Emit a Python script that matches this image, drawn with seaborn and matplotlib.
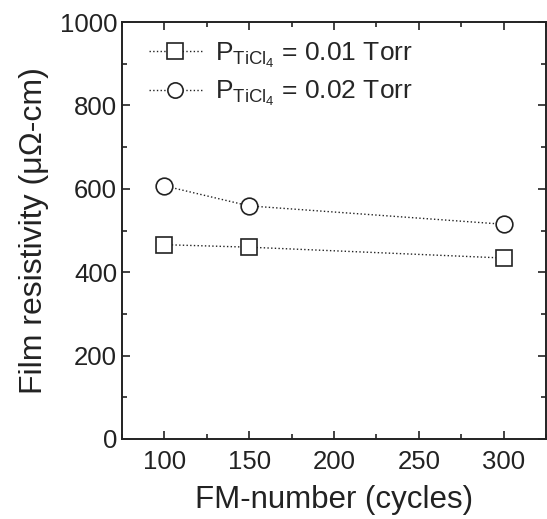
import matplotlib
matplotlib.use("Agg")
import matplotlib.pyplot as plt
from matplotlib.ticker import MultipleLocator
import seaborn as sns
import pandas as pd

cycles = [100, 150, 300]
res_001 = [466, 460, 434]
res_002 = [607, 559, 515]
labels = [r"$\mathregular{P_{TiCl_4}}$ = 0.01 Torr", r"$\mathregular{P_{TiCl_4}}$ = 0.02 Torr"]

sns.set_style("ticks")
plt.rcParams["font.family"] = ["Liberation Sans", "DejaVu Sans"]
plt.rcParams["mathtext.fontset"] = "custom"
plt.rcParams["mathtext.rm"] = "Liberation Sans"

df = pd.DataFrame({
    "cycles": cycles * 2,
    "res": res_001 + res_002,
    "series": [labels[0]] * 3 + [labels[1]] * 3,
})

fig = plt.figure(figsize=(5.47, 5.19), dpi=100)
ax = fig.add_axes([122 / 547, 1 - 439 / 519, (546 - 122) / 547, (439 - 22) / 519])

sns.lineplot(data=df, x="cycles", y="res", hue="series", style="series",
             markers=["s", "o"], dashes=False, palette=["#222222", "#222222"],
             linewidth=1.0, markersize=12, markerfacecolor="white",
             markeredgecolor="#222222", markeredgewidth=1.2, ax=ax, legend=True)
for ln in ax.lines:
    ln.set_linestyle(":")

ax.set_xlim(75, 325)
ax.set_ylim(0, 1000)
ax.xaxis.set_major_locator(MultipleLocator(50))
ax.xaxis.set_minor_locator(MultipleLocator(25))
ax.yaxis.set_major_locator(MultipleLocator(200))
ax.yaxis.set_minor_locator(MultipleLocator(100))
ax.tick_params(which="both", direction="in", top=True, right=True, labelsize=18.5, width=1.2, colors="#222222")
ax.tick_params(which="major", length=6)
ax.tick_params(which="minor", length=3.5)
ax.tick_params(axis="x", pad=8)
for s in ax.spines.values():
    s.set_linewidth(1.4)
    s.set_color("#222222")

ax.set_xlabel("FM-number (cycles)", fontsize=22.5, labelpad=8, color="#222222")
ax.set_ylabel("Film resistivity (\u03bc\u03a9-cm)", fontsize=23, labelpad=8, color="#222222")

handles, lbls = ax.get_legend_handles_labels()
for h in handles:
    h.set_linestyle(":")
    h.set_markerfacecolor("white")
    h.set_markersize(11)
leg = ax.legend(handles, lbls, loc="upper left", frameon=False, fontsize=19,
                handlelength=2.0, borderaxespad=0.3, labelspacing=0.35,
                handletextpad=0.5, bbox_to_anchor=(0.02, 1.0))

fig.savefig("out.png", dpi=100)
